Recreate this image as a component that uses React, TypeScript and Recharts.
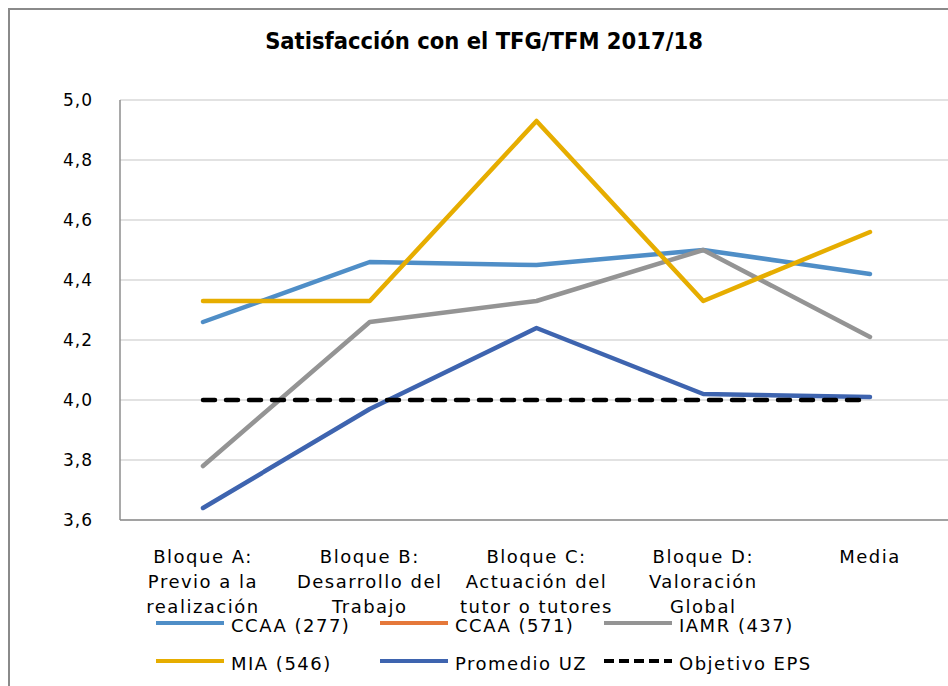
import React from "react";
import { LineChart, Line, XAxis, YAxis, CartesianGrid, Legend } from "recharts";

const categories = [
  "Bloque A:\nPrevio a la\nrealización",
  "Bloque B:\nDesarrollo del\nTrabajo",
  "Bloque C:\nActuación del\ntutor o tutores",
  "Bloque D:\nValoración\nGlobal",
  "Media",
];
const ccaa277 = [4.26, 4.46, 4.45, 4.5, 4.42];
const ccaa571: (number | null)[] = [null, null, null, null, null];
const iamr437 = [3.78, 4.26, 4.33, 4.5, 4.21];
const mia546 = [4.33, 4.33, 4.93, 4.33, 4.56];
const promedioUZ = [3.64, 3.97, 4.24, 4.02, 4.01];
const objetivoEPS = [4.0, 4.0, 4.0, 4.0, 4.0];
const yTicks = [3.6, 3.8, 4.0, 4.2, 4.4, 4.6, 4.8, 5.0];

const series = [
  { key: "ccaa277", name: "CCAA (277)", color: "#4f8ec7", dash: undefined },
  { key: "ccaa571", name: "CCAA (571)", color: "#e5783a", dash: undefined },
  { key: "iamr437", name: "IAMR (437)", color: "#949494", dash: undefined },
  { key: "mia546", name: "MIA (546)", color: "#e6ad00", dash: undefined },
  { key: "promedioUZ", name: "Promedio UZ", color: "#3e64af", dash: undefined },
  { key: "objetivoEPS", name: "Objetivo EPS", color: "#000000", dash: "12 11" },
];

const data = categories.map((name, i) => ({
  name,
  ccaa277: ccaa277[i],
  ccaa571: ccaa571[i],
  iamr437: iamr437[i],
  mia546: mia546[i],
  promedioUZ: promedioUZ[i],
  objetivoEPS: objetivoEPS[i],
}));

const FONT = "'DejaVu Sans', Verdana, sans-serif";

function CatTick({ x, y, payload }: any) {
  const lines = String(payload.value).split("\n");
  return (
    <text x={x} y={y} textAnchor="middle" fill="#000" fontSize={18} fontFamily={FONT} letterSpacing={1.5}>
      {lines.map((l, i) => (
        <tspan key={i} x={x} y={y + 43 + i * 25}>{l}</tspan>
      ))}
    </text>
  );
}

function LegendBox() {
  return (
    <svg width={940} height={70} style={{ display: "block" }}>
      {series.map((s, i) => {
        const col = i % 3;
        const row = Math.floor(i / 3);
        const lx = 148 + col * 224;
        const ly = 15 + row * 38;
        return (
          <g key={s.key}>
            <line x1={lx} y1={ly} x2={lx + 68} y2={ly} stroke={s.color} strokeWidth={4}
              strokeDasharray={s.dash ? "10 5" : undefined} />
            <text x={lx + 75} y={ly + 9} fontSize={18} fontFamily={FONT} letterSpacing={1.5} fill="#000">{s.name}</text>
          </g>
        );
      })}
    </svg>
  );
}

export default function App() {
  return (
    <div style={{ position: "fixed", left: 8, top: 8, width: 950, height: 690, overflow: "hidden", background: "#fff",
      borderLeft: "2px solid #8a8a8a", borderTop: "2px solid #8a8a8a" }}>
      <div style={{ position: "absolute", left: 0, top: 17, width: 948, textAlign: "center", fontFamily: "'DejaVu Sans Condensed', 'DejaVu Sans', sans-serif", fontWeight: "bold", fontSize: 23.5, color: "#000" }}>
        Satisfacción con el TFG/TFM 2017/18
      </div>
      <div style={{ position: "absolute", left: -2, top: -2 }}>
        <LineChart width={960} height={670} data={data} margin={{ top: 92, right: 15, bottom: 38, left: 0 }}>
          <CartesianGrid vertical={false} stroke="#d9d9d9" strokeWidth={1.5} />
          <XAxis dataKey="name" interval={0} tickLine={false} tickSize={0} tickMargin={0} height={120}
            padding={{ left: 83, right: 83 }} axisLine={{ stroke: "#8c8c8c", strokeWidth: 1.5 }} tick={<CatTick />} />
          <YAxis domain={[3.6, 5.0]} ticks={yTicks} width={112} tickLine={false} tickSize={0} tickMargin={27}
            axisLine={{ stroke: "#8c8c8c", strokeWidth: 1.5 }}
            tick={{ fill: "#000", fontSize: 17, fontFamily: FONT, letterSpacing: 1 }}
            tickFormatter={(v: number) => v.toFixed(1).replace(".", ",")} />
          <Legend layout="horizontal" verticalAlign="middle" align="center" content={() => <LegendBox />}
            wrapperStyle={{ position: "absolute", left: 0, top: 600, width: 940, height: 70 }} />
          {series.map((s) => (
            <Line key={s.key} type="linear" dataKey={s.key} name={s.name} stroke={s.color} strokeWidth={4.5}
              strokeDasharray={s.dash} strokeLinecap="round" strokeLinejoin="round" dot={false} activeDot={false}
              isAnimationActive={false} />
          ))}
        </LineChart>
      </div>
    </div>
  );
}
